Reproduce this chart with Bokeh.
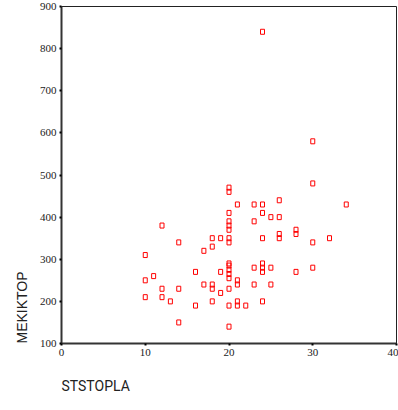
from bokeh.plotting import figure
from bokeh.models import Title, FixedTicker, Range1d
from bokeh.embed import file_html
from bokeh.resources import INLINE

ststopla = [10, 10, 10, 11, 12, 12, 12, 13, 14, 14, 14, 16, 16, 17, 17,
            18, 18, 18, 18, 18, 19, 19, 19,
            20, 20, 20, 20, 20, 20, 20, 20, 20, 20, 20, 20, 20, 20, 20, 20,
            21, 21, 21, 21, 21, 22, 23, 23, 23, 23,
            24, 24, 24, 24, 24, 24, 24, 24, 25, 25, 25, 26, 26, 26, 26,
            28, 28, 28, 30, 30, 30, 30, 32, 34]
mekiktop = [310, 250, 210, 260, 380, 230, 210, 200, 340, 230, 150, 270, 190, 320, 240,
            350, 330, 240, 230, 200, 350, 270, 220,
            470, 460, 410, 390, 380, 370, 350, 340, 290, 285, 275, 265, 255, 230, 190, 140,
            430, 250, 240, 200, 190, 190, 430, 390, 280, 240,
            840, 430, 410, 350, 290, 280, 270, 200, 400, 280, 240, 440, 400, 360, 350,
            370, 360, 270, 580, 480, 340, 280, 350, 430]

x_ticks = [0, 10, 20, 30, 40]
y_ticks = [100, 200, 300, 400, 500, 600, 700, 800, 900]
x_title = "STSTOPLA"
y_title = "MEKIKTOP"

TICK_FONT = "Liberation Sans Narrow"

p = figure(width=398, height=410, output_backend="svg", toolbar_location=None,
           x_range=Range1d(0, 40), y_range=Range1d(100, 900),
           min_border_left=61, min_border_right=2, min_border_top=6, min_border_bottom=67)
p.title.visible = False
p.background_fill_color = "white"
p.border_fill_color = "white"
p.outline_line_color = "#222222"
p.outline_line_width = 1
p.xgrid.visible = False
p.ygrid.visible = False

for ax, ticks in ((p.xaxis, x_ticks), (p.yaxis, y_ticks)):
    ax.ticker = FixedTicker(ticks=ticks)
    ax.minor_tick_line_color = None
    ax.major_tick_in = 0
    ax.major_tick_out = 2
    ax.major_tick_line_width = 2
    ax.major_tick_line_color = "black"
    ax.axis_line_width = 2
    ax.axis_line_color = "#333333"
    ax.major_label_text_font = TICK_FONT
    ax.major_label_text_font_size = "11px"
    ax.major_label_text_color = "#222222"
p.xaxis.major_label_standoff = 3
p.yaxis.major_label_standoff = 3

p.rect(ststopla, mekiktop, width=4, height=5, width_units="screen", height_units="screen",
       fill_color=None, line_color="red", line_width=1)

xt = Title(text=x_title, align="left", vertical_align="bottom", text_font="Roboto",
           text_font_size="14px", text_font_style="normal", text_color="#222222", standoff=34)
p.add_layout(xt, "below")
yt = Title(text=y_title, align="left", text_font="'Liberation Sans'", text_font_size="14px",
           text_font_style="normal", text_color="#222222", standoff=14)
p.add_layout(yt, "left")

open("out.html", "w").write(file_html(p, INLINE))
